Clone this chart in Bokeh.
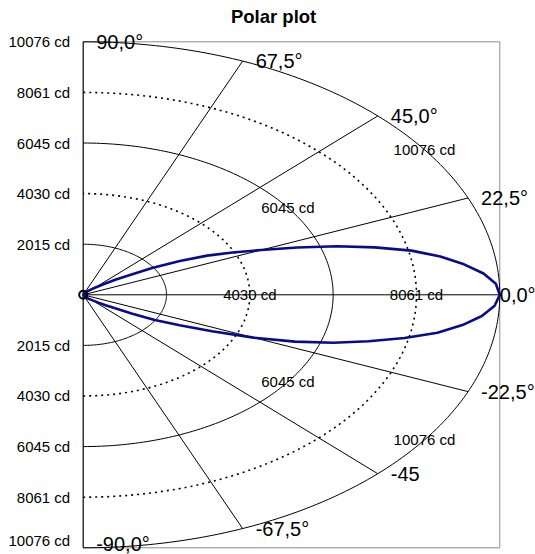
import numpy as np
from bokeh.plotting import figure
from bokeh.models import Range1d
from bokeh.core.properties import value
from bokeh.embed import file_html
from bokeh.resources import INLINE

# ---- data ----
R_MAX = 10076
ring_values = [2015, 4030, 6045, 8061, 10076]
ring_dotted = [False, True, False, True, False]
ray_angles = [-90, -67.5, -45, -22.5, 0, 22.5, 45, 67.5, 90]
ray_labels = ["-90,0°", "-67,5°", "-45", "-22,5°", "0,0°", "22,5°", "45,0°", "67,5°", "90,0°"]
axis_ticks = [-10076, -8061, -6045, -4030, -2015, 2015, 4030, 6045, 8061, 10076]
axis_tick_labels = ["10076 cd", "8061 cd", "6045 cd", "4030 cd", "2015 cd",
                    "2015 cd", "4030 cd", "6045 cd", "8061 cd", "10076 cd"]
inner_label_values = [4030, 8061, 6045, 10076, 6045, 10076]
inner_label_angles = [0, 0, 35, 35, -35, -35]
inner_label_texts = ["4030 cd", "8061 cd", "6045 cd", "10076 cd", "6045 cd", "10076 cd"]

curve_angles = [-90, -85, -80, -75, -70, -65, -60, -55, -50, -45,
                -40, -37.5, -35, -32.5, -30, -27.5, -25, -22.5, -20, -17.5, -15, -12.5, -10, -7.5, -5, -2.5,
                0, 2.5, 5, 7.5, 10, 12.5, 15, 17.5, 20, 22.5, 25, 27.5, 30, 32.5, 35, 37.5, 40,
                45, 50, 55, 60, 65, 70, 75, 80, 85, 90]
curve_values = [5, 10, 20, 30, 45, 70, 100, 150, 210, 300,
                500, 680, 920, 1410, 2000, 2630, 3440, 4460, 5450, 6350, 7150, 7960, 8700, 9250, 9680, 9960,
                10076, 9990, 9720, 9290, 8770, 8130, 7300, 6440, 5510, 4660, 3990, 3380, 2700, 2000, 1380, 1000, 700,
                380, 240, 160, 100, 70, 45, 30, 20, 10, 5]

TITLE = "Polar plot"
FONT = "Liberation Sans"

W, H = 535, 554
# placement of the polar area inside the canvas (pixels)
PX_LEFT, PX_RIGHT, PX_CY, PX_RY = 82.7, 499.3, 294.3, 253.0
kx = R_MAX / (PX_RIGHT - PX_LEFT)
ky = R_MAX / PX_RY

p = figure(width=W, height=H, output_backend="svg", toolbar_location=None,
           x_range=Range1d(-PX_LEFT * kx, (W - PX_LEFT) * kx),
           y_range=Range1d(-(H - PX_CY) * ky, PX_CY * ky),
           x_axis_location=None, y_axis_location=None,
           min_border_left=0, min_border_right=0, min_border_top=0, min_border_bottom=0)
p.grid.visible = False
p.outline_line_color = None
p.background_fill_color = "white"
p.border_fill_color = "white"

# gray plot-area box
p.quad(left=[0], right=[R_MAX], bottom=[-R_MAX], top=[R_MAX],
       fill_color=None, line_color="#8c8c8c", line_width=1)

# rings
th = np.radians(np.linspace(-90, 90, 181))
for r, dotted in zip(ring_values, ring_dotted):
    if dotted:
        p.line(r * np.cos(th), r * np.sin(th), line_color="black", line_width=1.6, line_dash="2 4")
    else:
        p.line(r * np.cos(th), r * np.sin(th), line_color="black", line_width=1)

# rays
ra = np.radians(ray_angles)
p.segment(x0=np.zeros(len(ra)), y0=np.zeros(len(ra)), x1=R_MAX * np.cos(ra), y1=R_MAX * np.sin(ra),
          line_color="black", line_width=1)

# left intensity-scale labels
tick_y = np.array(axis_ticks, dtype=float)
p.text(x=np.zeros(len(tick_y)), y=tick_y, text=axis_tick_labels,
       x_offset=-13, y_offset=[-7 if t == -R_MAX else 0 for t in axis_ticks],
       text_font=value(FONT), text_font_size="15px", text_align="right",
       text_baseline="middle", text_color="black")

# inner ring labels
ia = np.radians(inner_label_angles)
iv = np.array(inner_label_values, dtype=float)
p.text(x=iv * np.cos(ia), y=iv * np.sin(ia), text=inner_label_texts,
       text_font=value(FONT), text_font_size="15px", text_align="center",
       text_baseline="middle", text_color="black")

# intensity curve
ca = np.radians(curve_angles)
cv = np.array(curve_values, dtype=float)
p.line(cv * np.cos(ca), cv * np.sin(ca), line_color="#0a0a8c", line_width=2.6, line_join="round")

# origin marker
p.scatter([0], [0], marker="circle", size=8, fill_color=None, line_color="black", line_width=2)

# angle labels
p.text(x=R_MAX * np.cos(ra), y=R_MAX * np.sin(ra), text=ray_labels,
       x_offset=[0 if a == 0 else 13 for a in ray_angles],
       y_offset=[-4 if a == -90 else 0 for a in ray_angles],
       text_font=value(FONT), text_font_size="20px", text_align="left",
       text_baseline="middle", text_color="black")

# title
p.text(x=[R_MAX * 0.457], y=[R_MAX * 1.1], text=[TITLE],
       text_font=value(FONT), text_font_size="18.5px", text_font_style="bold",
       text_align="center", text_baseline="middle", text_color="black")

open("out.html", "w").write(file_html(p, INLINE))
